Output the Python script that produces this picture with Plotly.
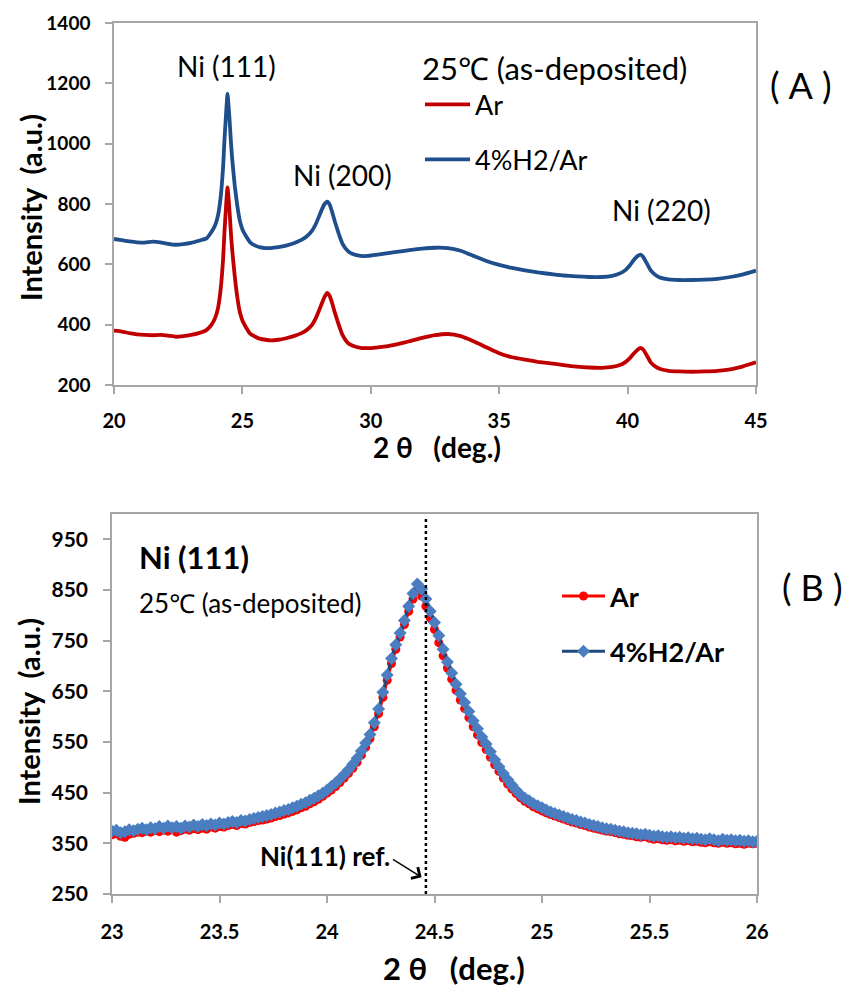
import plotly.graph_objects as go

W, H = 845, 992
def PX(x): return x / W
def PY(y): return 1 - y / H

FONT = "Lato, 'Noto Sans', 'Noto Sans CJK JP', sans-serif"

# ---------------- Panel (A) data ----------------
TOP_X = [20.0, 20.3, 20.6, 20.9, 21.2, 21.5, 21.8, 22.1, 22.4, 22.7,
         23.0, 23.3, 23.6, 23.8, 23.95, 24.05, 24.15, 24.25, 24.3, 24.35,
         24.42, 24.5, 24.55, 24.6, 24.7, 24.8, 24.9, 25.0, 25.15,
         25.3, 25.5, 25.7, 25.9, 26.1, 26.4, 26.7, 27.0, 27.3, 27.5,
         27.7, 27.85, 28.0, 28.1, 28.2, 28.3, 28.4, 28.5, 28.6, 28.75,
         28.9, 29.1, 29.3, 29.6, 29.9, 30.2, 30.6, 31.0, 31.5, 32.0,
         32.5, 33.0, 33.5, 34.0, 34.5, 35.0, 35.5, 36.0, 36.5, 37.0,
         37.5, 38.0, 38.5, 39.0, 39.4, 39.7, 39.9, 40.1, 40.25, 40.4,
         40.5, 40.6, 40.75, 40.9, 41.1, 41.3, 41.6, 42.0, 42.5, 43.0,
         43.5, 44.0, 44.5, 45.0]
TOP_AR = [380, 377, 372, 368, 366, 365, 366, 364, 360, 362,
          366, 372, 382, 400, 425, 455, 515, 620, 705, 775,
          855, 775, 708, 650, 562, 492, 442, 414, 390,
          370, 360, 353, 350, 348, 350, 355, 362, 372, 382,
          398, 420, 450, 472, 492, 505, 495, 470, 440, 400,
          365, 340, 330, 323, 322, 324, 328, 335, 345, 356,
          365, 369, 362, 345, 325, 305, 292, 284, 277, 272,
          266, 261, 258, 257, 260, 266, 275, 290, 305, 318,
          323, 318, 298, 275, 260, 252, 247, 245, 244, 245,
          247, 252, 262, 275]
TOP_H2 = [684, 680, 676, 673, 672, 675, 673, 668, 665, 667,
          671, 678, 686, 708, 732, 762, 820, 925, 1010, 1080,
          1165, 1080, 1010, 952, 862, 795, 745, 716, 692,
          673, 662, 656, 654, 654, 657, 662, 670, 681, 692,
          710, 732, 762, 783, 800, 808, 798, 772, 742, 702,
          668, 645, 634, 628, 628, 631, 636, 641, 647, 652,
          655, 654, 645, 628, 611, 598, 588, 580, 573, 568,
          563, 560, 558, 558, 562, 570, 580, 598, 615, 628,
          632, 625, 603, 580, 564, 555, 550, 548, 548, 549,
          552, 558, 567, 579]

# ---------------- Panel (B) data ----------------
B_X = [23.00, 23.02, 23.04, 23.06, 23.08, 23.10, 23.12, 23.14, 23.16, 23.18,
       23.20, 23.22, 23.24, 23.26, 23.28, 23.30, 23.32, 23.34, 23.36, 23.38,
       23.40, 23.42, 23.44, 23.46, 23.48, 23.50, 23.52, 23.54, 23.56, 23.58,
       23.60, 23.62, 23.64, 23.66, 23.68, 23.70, 23.72, 23.74, 23.76, 23.78,
       23.80, 23.82, 23.84, 23.86, 23.88, 23.90, 23.92, 23.94, 23.96, 23.98,
       24.00, 24.02, 24.04, 24.06, 24.08, 24.10, 24.12, 24.14, 24.16, 24.18,
       24.20, 24.22, 24.24, 24.26, 24.28, 24.30, 24.32, 24.34, 24.36, 24.38,
       24.40, 24.42, 24.44, 24.46, 24.48, 24.50, 24.52, 24.54, 24.56, 24.58,
       24.60, 24.62, 24.64, 24.66, 24.68, 24.70, 24.72, 24.74, 24.76, 24.78,
       24.80, 24.82, 24.84, 24.86, 24.88, 24.90, 24.92, 24.94, 24.96, 24.98,
       25.00, 25.02, 25.04, 25.06, 25.08, 25.10, 25.12, 25.14, 25.16, 25.18,
       25.20, 25.22, 25.24, 25.26, 25.28, 25.30, 25.32, 25.34, 25.36, 25.38,
       25.40, 25.42, 25.44, 25.46, 25.48, 25.50, 25.52, 25.54, 25.56, 25.58,
       25.60, 25.62, 25.64, 25.66, 25.68, 25.70, 25.72, 25.74, 25.76, 25.78,
       25.80, 25.82, 25.84, 25.86, 25.88, 25.90, 25.92, 25.94, 25.96, 25.98,
       26.00]
B_AR = [367, 369, 364, 362, 368, 370, 372, 371, 374, 372,
        375, 373, 376, 374, 377, 372, 375, 378, 376, 379,
        377, 380, 378, 382, 380, 383, 382, 385, 387, 385,
        389, 388, 391, 393, 395, 396, 398, 400, 403, 405,
        408, 410, 413, 416, 420, 423, 428, 432, 437, 443,
        449, 455, 462, 470, 479, 488, 498, 510, 524, 540,
        557, 580, 606, 638, 672, 705, 733, 757, 782, 808,
        832, 850, 838, 818, 795, 772, 746, 720, 696, 674,
        652, 633, 616, 598, 580, 564, 549, 535, 520, 505,
        492, 479, 467, 457, 448, 440, 433, 428, 422, 418,
        414, 410, 407, 404, 401, 398, 395, 392, 390, 387,
        385, 382, 380, 378, 376, 374, 373, 371, 369, 368,
        366, 365, 363, 362, 363, 360, 358, 359, 357, 356,
        357, 355, 356, 354, 355, 353, 354, 352, 351, 353,
        351, 350, 352, 350, 351, 349, 350, 348, 350, 349,
        350]
B_H2 = [374, 376, 371, 373, 377, 375, 378, 380, 377, 381,
        379, 383, 380, 384, 381, 383, 380, 384, 382, 386,
        383, 387, 385, 388, 386, 390, 388, 391, 393, 391,
        395, 394, 397, 399, 401, 403, 405, 407, 410, 412,
        415, 417, 420, 423, 427, 430, 435, 439, 444, 449,
        455, 462, 469, 477, 486, 495, 506, 518, 532, 548,
        565, 588, 615, 648, 682, 715, 742, 765, 790, 818,
        843, 862, 852, 832, 808, 786, 760, 733, 708, 686,
        664, 645, 628, 610, 592, 576, 560, 546, 531, 515,
        501, 488, 476, 465, 455, 446, 439, 434, 428, 424,
        420, 416, 412, 409, 406, 403, 400, 397, 395, 392,
        390, 387, 385, 383, 381, 379, 378, 376, 374, 373,
        371, 370, 369, 367, 368, 366, 364, 365, 363, 362,
        363, 361, 362, 360, 361, 359, 360, 358, 357, 359,
        357, 355, 358, 356, 357, 355, 356, 354, 355, 353,
        354]
NI111_REF = 24.46

TOP_YTICKS = [200, 400, 600, 800, 1000, 1200, 1400]
TOP_XTICKS = [20, 25, 30, 35, 40, 45]
B_YTICKS = [250, 350, 450, 550, 650, 750, 850, 950]
B_XTICKS = [23, 23.5, 24, 24.5, 25, 25.5, 26]

assert len(TOP_X) == len(TOP_AR) == len(TOP_H2)
assert len(B_X) == len(B_AR) == len(B_H2)

fig = go.Figure()
fig.add_trace(go.Scatter(x=TOP_X, y=TOP_AR, mode="lines", name="Ar",
                         line=dict(color="#C00000", width=3.8, shape="spline", smoothing=0.4),
                         xaxis="x", yaxis="y", legend="legend", legendgroup="a"))
fig.add_trace(go.Scatter(x=TOP_X, y=TOP_H2, mode="lines", name="4%H2/Ar",
                         line=dict(color="#1F4E8C", width=3.8, shape="spline", smoothing=0.4),
                         xaxis="x", yaxis="y", legend="legend", legendgroup="b"))
fig.add_trace(go.Scatter(x=B_X, y=B_AR, mode="lines+markers", name="Ar",
                         line=dict(color="#FF0000", width=3),
                         marker=dict(symbol="circle", size=9, color="#FF0000"),
                         xaxis="x2", yaxis="y2", legend="legend2", legendgroup="c"))
fig.add_trace(go.Scatter(x=B_X, y=B_H2, mode="lines+markers", name="4%H2/Ar",
                         line=dict(color="#1F497D", width=3),
                         marker=dict(symbol="diamond", size=10, color="#4A7EC0"),
                         xaxis="x2", yaxis="y2", legend="legend2", legendgroup="d"))

AX = dict(showline=True, linecolor="#A6A6A6", linewidth=1.5, mirror=True,
          ticks="outside", ticklen=7, tickwidth=1.5, tickcolor="#A6A6A6",
          showgrid=False, zeroline=False, automargin=False)

fig.update_layout(
    width=W, height=H, margin=dict(l=0, r=0, t=0, b=0, autoexpand=False),
    paper_bgcolor="white", plot_bgcolor="white",
    font=dict(family=FONT, color="black"),
    xaxis=dict(AX, domain=[PX(114), PX(756)], range=[20, 45], tickvals=TOP_XTICKS,
               anchor="y", tickfont=dict(size=20, weight="bold"), ticklabelstandoff=10),
    yaxis=dict(AX, domain=[PY(385), PY(23)], range=[200, 1400], tickvals=TOP_YTICKS,
               anchor="x", tickfont=dict(size=19, weight="bold"), ticklabelstandoff=11),
    xaxis2=dict(AX, domain=[PX(112), PX(757)], range=[23, 26], tickvals=B_XTICKS,
                anchor="y2", tickfont=dict(size=20, weight="bold"), ticklabelstandoff=12),
    yaxis2=dict(AX, domain=[PY(894), PY(514)], range=[250, 1000], tickvals=B_YTICKS,
                anchor="x2", tickfont=dict(size=21, weight="bold"), ticklabelstandoff=11),
    legend=dict(x=PX(420), y=PY(40), xanchor="left", yanchor="top", itemwidth=45,
                title=dict(text="25℃ (as-deposited)", font=dict(size=31)),
                font=dict(size=27), bgcolor="rgba(0,0,0,0)", tracegroupgap=17),
    legend2=dict(x=PX(557), y=PY(572), xanchor="left", yanchor="top", itemwidth=43,
                 font=dict(size=27, weight="bold"), bgcolor="rgba(0,0,0,0)", tracegroupgap=17),
    showlegend=True,
)

ann = []
def T(text, x, y, size, bold=False, xanchor="center", angle=0):
    ann.append(dict(text=text, x=PX(x), y=PY(y), xref="paper", yref="paper",
                    xanchor=xanchor, yanchor="middle", showarrow=False, textangle=angle,
                    font=dict(size=size, weight="bold" if bold else "normal", family=FONT)))

NB = "\u00a0"
T("Intensity" + NB * 2 + "(a.u.)", 30, 208, 29, True, angle=-90)
T("2" + NB + "θ" + NB * 3 + "(deg.)", 437, 447, 28, True)
T("Intensity" + NB * 2 + "(a.u.)", 28, 712, 29, True, angle=-90)
T("2" + NB + "θ" + NB * 3 + "(deg.)", 454, 968, 31, True)
T("Ni (111)", 226, 66, 28)
T("Ni (200)", 342, 175, 28)
T("Ni (220)", 661, 210, 28)
T("(\u2005A\u2005)", 801, 85, 36)
T("(\u2005B\u2005)", 812, 587, 36)
T("Ni (111)", 137, 557, 31, True, xanchor="left")
T("25℃ (as-deposited)", 137, 603, 26, xanchor="left")
T("Ni(111) ref.", 392, 856, 26, True, xanchor="right")
ann.append(dict(text="", x=24.44, y=283, xref="x2", yref="y2",
                ax=24.30, ay=320, axref="x2", ayref="y2", showarrow=True,
                arrowhead=4, arrowsize=1.8, arrowwidth=1.4, arrowcolor="black"))
fig.update_layout(annotations=ann)

fig.add_shape(type="line", x0=NI111_REF, x1=NI111_REF, y0=250, y1=990, xref="x2", yref="y2",
              line=dict(color="black", width=2.5, dash="dot"))

fig.write_html("out.html")
